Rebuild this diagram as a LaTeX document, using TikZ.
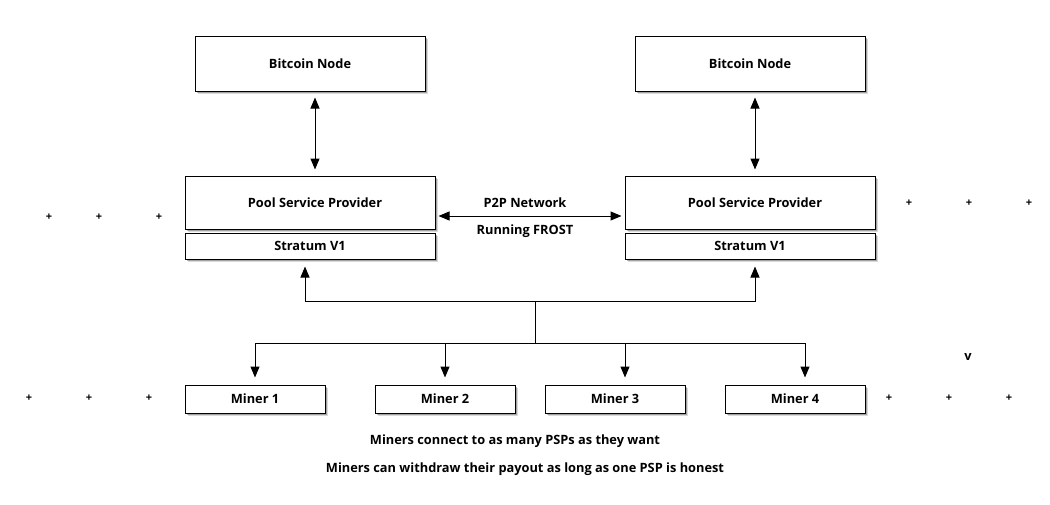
\documentclass[tikz,border=0pt]{standalone}
\usepackage{fontspec}
\setmainfont{Open Sans}
\usetikzlibrary{arrows.meta,shadows}
\begin{document}
\begin{tikzpicture}[x=1pt,y=-1pt,
  box/.style={draw,line width=1pt,fill=white,minimum height=#1,inner sep=0pt,
    drop shadow={shadow xshift=2.5pt,shadow yshift=-2.5pt,opacity=0.15,fill=black},
    drop shadow={shadow xshift=1.5pt,shadow yshift=-1.5pt,opacity=0.25,fill=black}},
  box/.default=20pt,
  lbl/.style={font=\bfseries\fontsize{12.8}{14}\selectfont,inner sep=0pt},
  con/.style={line width=1pt},
  arrone/.style={-{Triangle[length=11pt,width=9pt]}},
  arrtwo/.style={{Triangle[length=11pt,width=9pt]}-{Triangle[length=11pt,width=9pt]}}
]
\useasboundingbox (0,0) rectangle (1050,504);
% Bitcoin nodes
\node[box=55pt,minimum width=230pt,lbl] (bnl) at (310,63.5) {Bitcoin Node};
\node[box=55pt,minimum width=230pt,lbl] (bnr) at (750,63.5) {Bitcoin Node};
% PSP
\node[box=53pt,minimum width=250pt,lbl] (pspl) at (310,202.5) {\hspace{10pt}Pool Service Provider};
\node[box=26pt,minimum width=250pt,lbl] (stl) at (310,246) {Stratum V1};
\node[box=53pt,minimum width=250pt,lbl] (pspr) at (750,202.5) {\hspace{10pt}Pool Service Provider};
\node[box=26pt,minimum width=250pt,lbl] (str) at (750,246) {Stratum V1};
% Miners
\node[box=28pt,minimum width=140pt,lbl] (m1) at (255,399) {Miner 1};
\node[box=28pt,minimum width=140pt,lbl] (m2) at (445,399) {Miner 2};
\node[box=28pt,minimum width=140pt,lbl] (m3) at (615,399) {Miner 3};
\node[box=28pt,minimum width=140pt,lbl] (m4) at (795,399) {Miner 4};
% labels
\node[lbl] (p2p) at (525,203) {P2P Network};
\node[lbl] (frost) at (525,231) {Running FROST};
\node[lbl] (cap1) at (515,441) {Miners connect to as many PSPs as they want};
\node[lbl] (cap2) at (525,469) {Miners can withdraw their payout as long as one PSP is honest};
% connectors
\draw[con,arrtwo] ([xshift=5pt,yshift=-6pt]bnl.south) -- ([xshift=5pt,yshift=6pt]pspl.north);
\draw[con,arrtwo] ([xshift=5pt,yshift=-6pt]bnr.south) -- ([xshift=5pt,yshift=6pt]pspr.north);
\draw[con,arrtwo] ([xshift=3pt,yshift=-13.5pt]pspl.east) -- ([xshift=-3pt,yshift=-13.5pt]pspr.west);
\coordinate (hub) at (535,301);
\coordinate (hub2) at (535,343);
\draw[con,arrone] (hub) -| ([xshift=-5pt,yshift=-7pt]stl.south);
\draw[con,arrone] (hub) -| ([xshift=5pt,yshift=-7pt]str.south);
\draw[con] (hub) -- (hub2);
\draw[con,arrone] (hub2) -| ([yshift=7pt]m1.north);
\draw[con,arrone] (hub2) -| ([yshift=7pt]m2.north);
\draw[con,arrone] (hub2) -| ([xshift=10pt,yshift=7pt]m3.north);
\draw[con,arrone] (hub2) -| ([xshift=10pt,yshift=7pt]m4.north);
% stray marks
\foreach \i/\x/\y in {a/49/217,b/99/217,c/159/217,d/909/203,e/969/203,f/1029/203,g/29/398,h/89/398,i/149/398,j/889/398,k/949/398,l/1009/398}
  \node[lbl,font=\bfseries\fontsize{11}{12}\selectfont] (pl\i) at (\x,\y) {+};
\node[lbl] (vv) at (968,357) {v};
\end{tikzpicture}
\end{document}
